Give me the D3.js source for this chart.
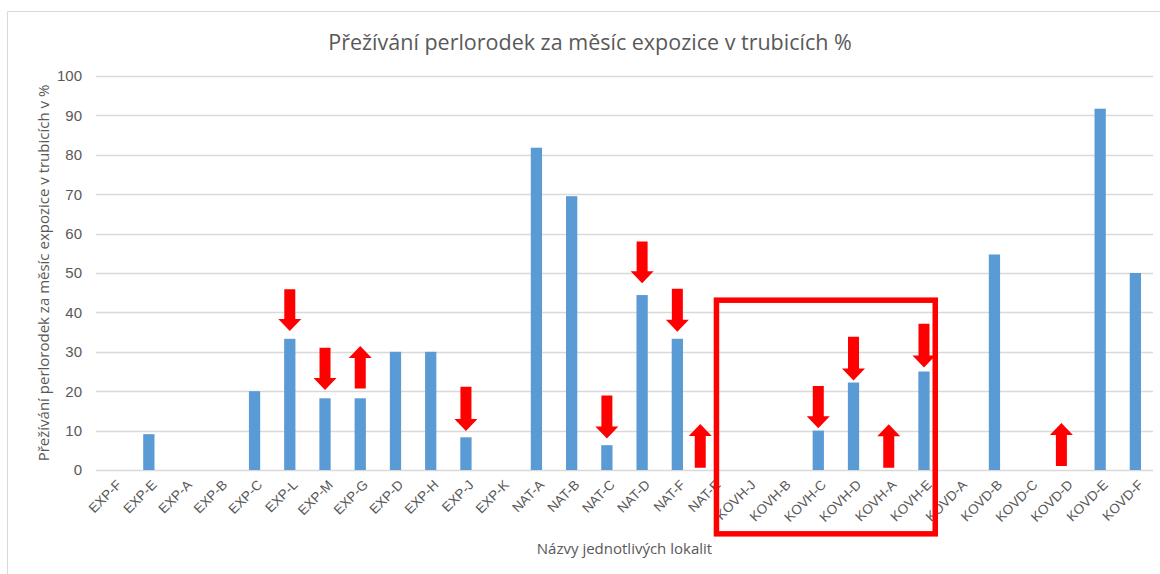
<!DOCTYPE html>
<html>
<head>
<meta charset="utf-8">
<script src="https://cdn.jsdelivr.net/npm/d3@7/dist/d3.min.js"></script>
<style>
  body { margin: 0; background: #fff; }
  svg { display: block; font-family: "Open Sans", "Noto Sans", sans-serif; }
</style>
</head>
<body>
<svg id="chart"></svg>
<script>
// lokality a hodnoty
var lokality = ["EXP-F", "EXP-E", "EXP-A", "EXP-B", "EXP-C", "EXP-L", "EXP-M", "EXP-G", "EXP-D", "EXP-H",
    "EXP-J", "EXP-K", "NAT-A", "NAT-B", "NAT-C", "NAT-D", "NAT-F", "NAT-E", "KOVH-J", "KOVH-B",
    "KOVH-C", "KOVH-D", "KOVH-A", "KOVH-E", "KOVD-A", "KOVD-B", "KOVD-C", "KOVD-D", "KOVD-E", "KOVD-F"];
var preziti = [0, 9.1, 0, 0, 20, 33.3, 18.2, 18.2, 30, 30,
    8.3, 0, 81.8, 69.5, 6.3, 44.4, 33.3, 0, 0, 0,
    10, 22.2, 0, 25, 0, 54.7, 0, 0, 91.7, 50];
var yTicks = [0, 10, 20, 30, 40, 50, 60, 70, 80, 90, 100];

// šipky: lokalita, směr, od, do (v %)
var sipkyLokalita = ["EXP-L", "EXP-M", "EXP-G", "EXP-J", "NAT-C", "NAT-D", "NAT-F", "NAT-E", "KOVH-C", "KOVH-D", "KOVH-A", "KOVH-E", "KOVD-D"];
var sipkyOd = [45.9, 31.0, 20.7, 21.1, 18.9, 58.0, 46.0, 0.6, 21.3, 33.8, 0.6, 37.1, 1.0];
var sipkyDo = [35.3, 20.3, 31.5, 9.9, 8.0, 47.4, 35.1, 11.7, 10.6, 22.7, 11.6, 26.0, 11.9];
var sipkyPosun = [0, 0, 0, 0, 0, 0, 0, -0.35, 0, 0, 0, 0, -0.1];

var width = 1160, height = 574;
var margin = { top: 76, right: 7, bottom: 104, left: 96 };
var textColor = "#595959";

var svg = d3.select("#chart").attr("width", width).attr("height", height);

// rámeček grafu
svg.append("path")
    .attr("d", "M7.5,574 V11.5 H1160")
    .attr("fill", "none")
    .attr("stroke", "#d9d9d9")
    .attr("stroke-width", 1);

var x = d3.scaleBand()
    .domain(lokality)
    .range([margin.left, width - margin.right])
    .paddingInner(0.68)
    .paddingOuter(0.34);

var y = d3.scaleLinear()
    .domain([0, 100])
    .range([height - margin.bottom, margin.top]);

var g = svg.append("g");

// mřížka
g.selectAll("line.grid")
    .data(yTicks)
    .enter().append("line")
    .attr("class", "grid")
    .attr("x1", margin.left)
    .attr("x2", width - margin.right)
    .attr("y1", function (d) { return Math.round(y(d)) + 0.5; })
    .attr("y2", function (d) { return Math.round(y(d)) + 0.5; })
    .attr("stroke", "#d9d9d9")
    .attr("stroke-width", 1.3);

// osa y
var yAxis = d3.axisLeft(y).tickValues(yTicks).tickSize(0).tickPadding(14);
var yg = svg.append("g")
    .attr("transform", "translate(" + margin.left + ",0)")
    .call(yAxis);
yg.select(".domain").remove();
yg.selectAll("text")
    .attr("fill", textColor)
    .style("font-size", "15px");

// sloupce
g.selectAll("rect.bar")
    .data(preziti)
    .enter().append("rect")
    .attr("class", "bar")
    .attr("x", function (d, i) { return x(lokality[i]); })
    .attr("width", x.bandwidth())
    .attr("y", function (d) { return y(d); })
    .attr("height", function (d) { return y(0) - y(d); })
    .attr("fill", "#5b9bd5");

// popisky osy x
var xAxis = d3.axisBottom(x).tickSize(0).tickPadding(0);
var xg = svg.append("g")
    .attr("transform", "translate(0," + y(0) + ")")
    .call(xAxis);
xg.select(".domain").remove();
xg.selectAll("text")
    .attr("fill", textColor)
    .style("font-size", "13.5px")
    .attr("text-anchor", "end")
    .attr("dy", "0.7em")
    .attr("transform", "translate(2,9) rotate(-45)");

// šipky
var shaftW = 11, headW = 23, headH = 12;
sipkyLokalita.forEach(function (lok, i) {
    var cx = x(lok) + x.bandwidth() / 2 + sipkyPosun[i] * x.step();
    var y0 = y(sipkyOd[i]), y1 = y(sipkyDo[i]);
    var dir = y1 > y0 ? 1 : -1;
    var hb = y1 - dir * headH;
    var p = d3.path();
    p.moveTo(cx - shaftW / 2, y0);
    p.lineTo(cx + shaftW / 2, y0);
    p.lineTo(cx + shaftW / 2, hb);
    p.lineTo(cx + headW / 2, hb);
    p.lineTo(cx, y1);
    p.lineTo(cx - headW / 2, hb);
    p.lineTo(cx - shaftW / 2, hb);
    p.closePath();
    svg.append("path")
        .attr("d", p.toString())
        .attr("fill", "#ff0000");
});

// červený rámeček kolem KOVH
var boxLeft = x("NAT-E") + x.step() * 0.27;
var boxRight = x("KOVH-E") + x.bandwidth() + x.step() * 0.16;
svg.append("rect")
    .attr("x", boxLeft)
    .attr("y", y(43.1))
    .attr("width", boxRight - boxLeft)
    .attr("height", y(-16.2) - y(43.1))
    .attr("fill", "none")
    .attr("stroke", "#ff0000")
    .attr("stroke-width", 5.5);

// nadpis
svg.append("text")
    .attr("x", 590)
    .attr("y", 50)
    .attr("text-anchor", "middle")
    .attr("fill", textColor)
    .style("font-size", "21.5px")
    .text("Přežívání perlorodek za měsíc expozice v trubicích %");

// název osy y
svg.append("text")
    .attr("transform", "translate(49," + ((y(0) + y(100)) / 2) + ") rotate(-90)")
    .attr("text-anchor", "middle")
    .attr("fill", textColor)
    .style("font-size", "15px")
    .text("Přežívání perlorodek za měsíc expozice v trubicích v %");

// název osy x
svg.append("text")
    .attr("x", (margin.left + width - margin.right) / 2)
    .attr("y", 554)
    .attr("text-anchor", "middle")
    .attr("fill", textColor)
    .style("font-size", "15px")
    .text("Názvy jednotlivých lokalit");
</script>
</body>
</html>
